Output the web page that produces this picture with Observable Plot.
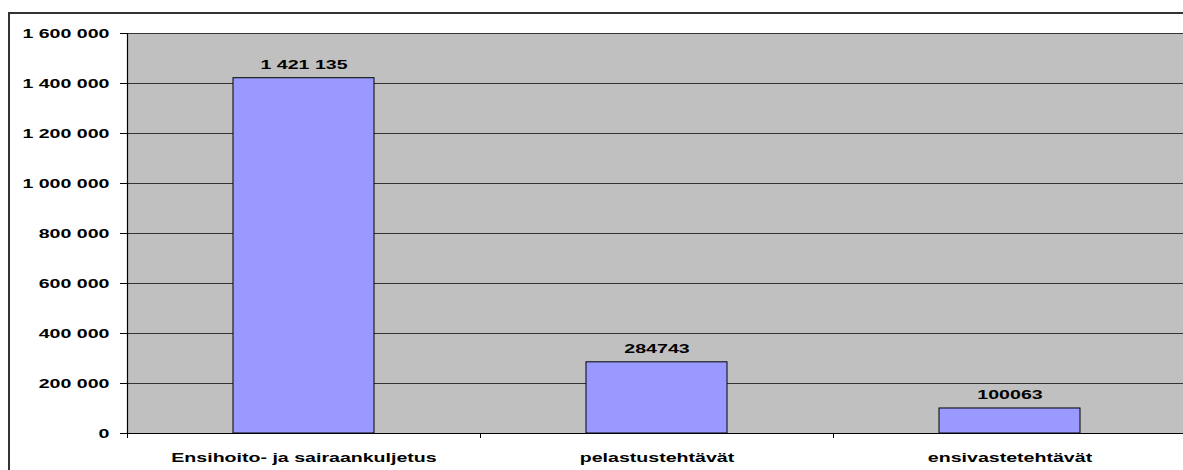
<!DOCTYPE html>
<html>
<head>
<meta charset="utf-8">
<script src="https://cdn.jsdelivr.net/npm/d3@7"></script>
<script src="https://cdn.jsdelivr.net/npm/@observablehq/plot@0.6"></script>
<style>
  html, body { margin: 0; padding: 0; background: #fff; overflow: hidden; width: 1183px; height: 470px; }
  #frame { position: absolute; left: 8px; top: 12px; width: 1200px; height: 480px; border: 2px solid #333; box-sizing: content-box; }
  #chart { position: absolute; left: 0; top: 0; }
</style>
</head>
<body>
<div id="frame"><div id="chart"></div></div>
<script>
const categories = ["Ensihoito- ja sairaankuljetus", "pelastustehtävät", "ensivastetehtävät"];
const values = [1421135, 284743, 100063];
const valueLabels = ["1 421 135", "284743", "100063"];
const yTicks = [0, 200000, 400000, 600000, 800000, 1000000, 1200000, 1400000, 1600000];

const data = categories.map((c, i) => ({ i, category: c, value: values[i], label: valueLabels[i] }));
const fmt = d => d3.format(",")(d).replace(/,/g, " ");

const plot = Plot.plot({
  width: 1176,
  height: 459,
  marginLeft: 117,
  marginRight: 0,
  marginTop: 19,
  marginBottom: 40,
  style: { fontFamily: "'Liberation Sans', Arial, sans-serif", fontSize: "13.5px", fontWeight: "bold", color: "#000", background: "transparent", overflow: "visible" },
  x: { domain: [0, categories.length], axis: null },
  y: { domain: [0, 1600000], axis: null },
  marks: [
    Plot.frame({ fill: "#c0c0c0", stroke: null }),
    Plot.ruleY(yTicks, { stroke: "#333", strokeWidth: 1.1 }),
    Plot.rectY(data, { x1: d => d.i, x2: d => d.i + 1, y: "value", insetLeft: 106, insetRight: 106, fill: "#9999ff", stroke: "#000", strokeWidth: 1 }),
    Plot.text(data, { x: d => d.i + 0.5, y: "value", text: "label", dy: -14, fill: "#000" }),
    Plot.ruleX([0], { stroke: "#000", strokeWidth: 1.2 }),
    Plot.ruleY([0], { stroke: "#000", strokeWidth: 1.2 }),
    Plot.axisY({ ticks: yTicks, tickFormat: fmt, tickSize: 7, tickPadding: 11, label: null, stroke: "#000" }),
    Plot.axisX({ ticks: d3.range(categories.length + 1), tickFormat: () => "", tickSize: 5, label: null, stroke: "#000" }),
    Plot.axisX({ ticks: categories.map((c, i) => i + 0.5), tickFormat: t => categories[Math.round(t - 0.5)], tickSize: 0, tickPadding: 19, label: null })
  ]
});
document.getElementById("chart").appendChild(plot);

// Reference text is rendered horizontally stretched; mimic it.
plot.querySelectorAll("text").forEach(t => {
  const L = t.getComputedTextLength();
  if (L > 0) {
    t.setAttribute("textLength", (L * 1.45).toFixed(1));
    t.setAttribute("lengthAdjust", "spacingAndGlyphs");
  }
});
</script>
</body>
</html>
